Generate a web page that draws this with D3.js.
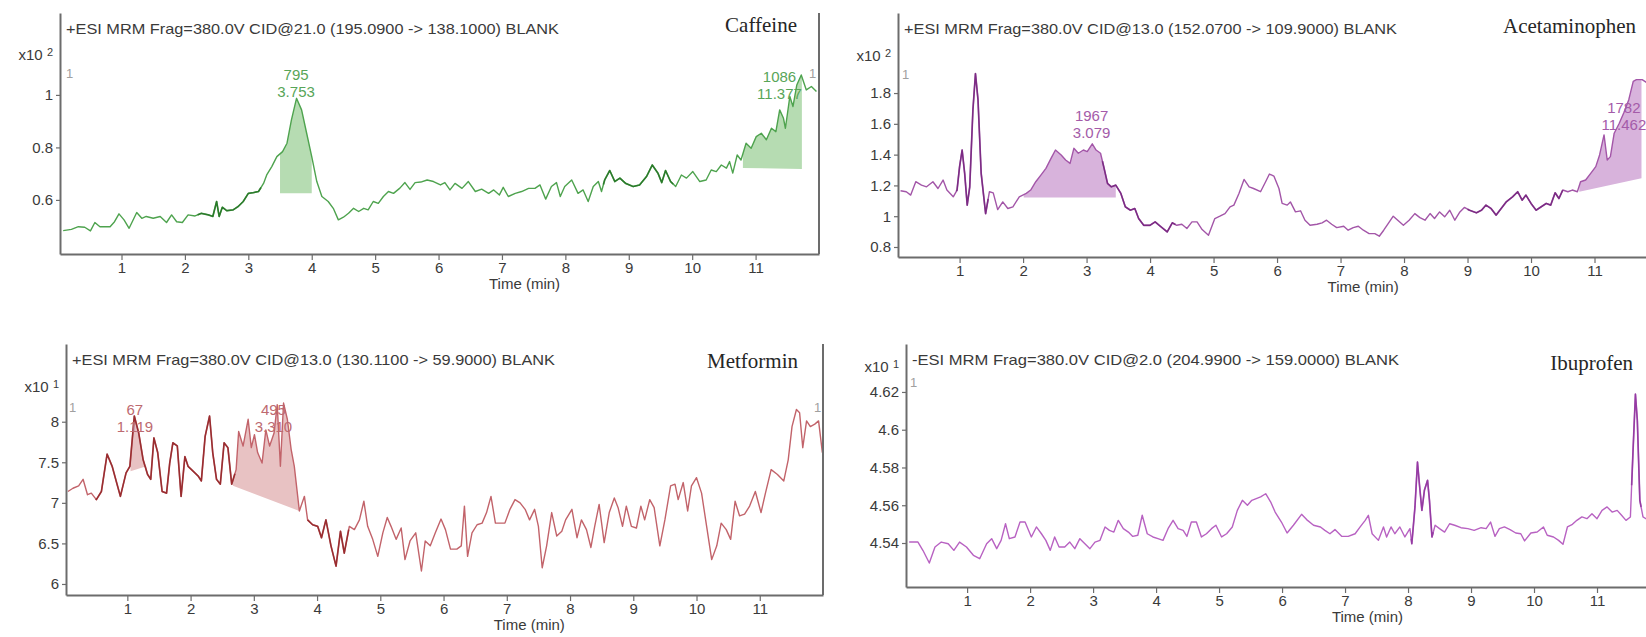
<!DOCTYPE html>
<html>
<head>
<meta charset="utf-8">
<script src="https://cdn.jsdelivr.net/npm/d3@7"></script>
<style>
  html, body { margin: 0; padding: 0; background: #fff; overflow: hidden; }
  svg { display: block; font-family: "Liberation Sans", Arial, sans-serif; }
</style>
</head>
<body>
<svg id="chart" width="1646" height="637"></svg>
<script>
// ---- MRM chromatograms of the blank sample (time in min, counts ×10^n) ----

const timeTicks = [1, 2, 3, 4, 5, 6, 7, 8, 9, 10, 11];

const compounds = ["Caffeine", "Acetaminophen", "Metformin", "Ibuprofen"];
const headers = [
  "+ESI MRM Frag=380.0V CID@21.0 (195.0900 -> 138.1000) BLANK",
  "+ESI MRM Frag=380.0V CID@13.0 (152.0700 -> 109.9000) BLANK",
  "+ESI MRM Frag=380.0V CID@13.0 (130.1100 -> 59.9000) BLANK",
  "-ESI MRM Frag=380.0V CID@2.0 (204.9900 -> 159.0000) BLANK"
];
const exponents = [2, 2, 1, 1];

const caffeineYTicks = [0.6, 0.8, 1];
const acetaminophenYTicks = [0.8, 1, 1.2, 1.4, 1.6, 1.8];
const metforminYTicks = [6, 6.5, 7, 7.5, 8];
const ibuprofenYTicks = [4.54, 4.56, 4.58, 4.6, 4.62];

// [time, intensity]
const caffeineTrace = [
  [0.08,0.483],[0.21,0.488],[0.32,0.498],[0.42,0.496],[0.51,0.482],[0.58,0.514],[0.66,0.498],[0.82,0.498],
  [0.89,0.517],[0.96,0.547],[1.04,0.524],[1.12,0.492],[1.24,0.552],[1.32,0.530],[1.39,0.537],[1.50,0.530],
  [1.61,0.537],[1.71,0.514],[1.79,0.543],[1.87,0.517],[1.96,0.514],[2.05,0.543],[2.16,0.539],[2.26,0.549],
  [2.37,0.543],[2.44,0.537],[2.50,0.594],[2.54,0.537],[2.59,0.572],[2.66,0.559],[2.76,0.562],[2.84,0.575],
  [2.92,0.594],[3.00,0.625],[3.08,0.628],[3.16,0.632],[3.24,0.663],[3.29,0.695],[3.37,0.727],[3.45,0.765],
  [3.54,0.784],[3.61,0.816],[3.68,0.905],[3.76,0.987],[3.84,0.943],[3.92,0.854],[4.00,0.765],[4.08,0.670],
  [4.16,0.613],[4.26,0.594],[4.34,0.568],[4.42,0.524],[4.50,0.534],[4.58,0.549],[4.66,0.568],[4.74,0.556],
  [4.82,0.568],[4.89,0.562],[4.97,0.594],[5.05,0.587],[5.13,0.613],[5.21,0.632],[5.29,0.625],[5.39,0.645],
  [5.47,0.666],[5.55,0.640],[5.63,0.666],[5.72,0.668],[5.82,0.676],[5.92,0.670],[6.03,0.657],[6.10,0.666],
  [6.18,0.638],[6.26,0.663],[6.37,0.644],[6.47,0.670],[6.58,0.632],[6.68,0.641],[6.79,0.625],[6.87,0.638],
  [6.96,0.619],[7.02,0.648],[7.10,0.613],[7.21,0.625],[7.31,0.632],[7.42,0.644],[7.52,0.644],[7.60,0.657],
  [7.69,0.603],[7.78,0.651],[7.86,0.666],[7.92,0.613],[7.99,0.651],[8.10,0.676],[8.20,0.625],[8.28,0.638],
  [8.36,0.594],[8.44,0.651],[8.52,0.670],[8.57,0.632],[8.62,0.676],[8.70,0.712],[8.78,0.670],[8.86,0.683],
  [8.95,0.663],[9.07,0.651],[9.17,0.657],[9.28,0.689],[9.37,0.733],[9.46,0.702],[9.52,0.666],[9.58,0.712],
  [9.66,0.670],[9.74,0.651],[9.83,0.695],[9.91,0.683],[10.01,0.708],[10.12,0.670],[10.22,0.676],[10.30,0.714],
  [10.38,0.708],[10.46,0.733],[10.54,0.721],[10.59,0.746],[10.64,0.702],[10.71,0.771],[10.77,0.752],[10.85,0.816],
  [10.93,0.797],[11.01,0.841],[11.09,0.854],[11.17,0.829],[11.25,0.873],[11.32,0.860],[11.38,0.943],[11.44,0.911],
  [11.47,0.873],[11.54,0.994],[11.59,0.956],[11.65,1.038],[11.72,1.076],[11.80,1.019],[11.88,1.032],[11.96,1.013]
];

const acetaminophenTrace = [
  [0.07,1.165],[0.16,1.159],[0.23,1.137],[0.31,1.224],[0.40,1.202],[0.48,1.191],[0.58,1.224],[0.66,1.180],
  [0.74,1.235],[0.80,1.170],[0.90,1.126],[0.96,1.170],[1.00,1.322],[1.04,1.430],[1.08,1.278],[1.12,1.072],
  [1.16,1.191],[1.21,1.691],[1.25,1.926],[1.29,1.757],[1.34,1.278],[1.41,1.017],[1.47,1.159],[1.53,1.152],
  [1.60,1.043],[1.68,1.093],[1.76,1.050],[1.84,1.061],[1.94,1.126],[2.05,1.148],[2.12,1.170],[2.20,1.224],
  [2.28,1.267],[2.36,1.311],[2.44,1.376],[2.51,1.430],[2.60,1.398],[2.67,1.365],[2.74,1.343],[2.80,1.441],
  [2.87,1.409],[2.95,1.430],[3.01,1.420],[3.09,1.470],[3.15,1.430],[3.22,1.409],[3.27,1.322],[3.33,1.213],
  [3.39,1.191],[3.46,1.202],[3.54,1.148],[3.61,1.061],[3.69,1.039],[3.76,1.050],[3.82,0.985],[3.90,0.941],
  [4.00,0.941],[4.08,0.963],[4.16,0.935],[4.27,0.898],[4.35,0.957],[4.42,0.941],[4.50,0.948],[4.58,0.920],
  [4.66,0.963],[4.74,0.963],[4.82,0.913],[4.92,0.876],[5.02,0.985],[5.10,1.000],[5.18,1.017],[5.26,1.061],
  [5.32,1.072],[5.40,1.148],[5.48,1.239],[5.56,1.191],[5.63,1.180],[5.74,1.159],[5.82,1.224],[5.88,1.274],
  [5.95,1.261],[6.03,1.180],[6.08,1.083],[6.16,1.072],[6.21,1.093],[6.29,1.028],[6.37,1.035],[6.44,0.974],
  [6.52,0.941],[6.63,0.948],[6.71,0.957],[6.78,0.974],[6.86,0.948],[6.94,0.926],[7.05,0.935],[7.12,0.909],
  [7.20,0.926],[7.28,0.935],[7.36,0.909],[7.45,0.887],[7.54,0.887],[7.61,0.870],[7.68,0.909],[7.75,0.952],
  [7.83,1.000],[7.91,0.970],[7.99,0.941],[8.08,0.974],[8.17,1.017],[8.25,0.991],[8.33,0.974],[8.41,1.017],
  [8.48,0.985],[8.56,1.028],[8.64,0.996],[8.72,1.039],[8.80,0.974],[8.88,1.028],[8.95,1.057],[9.03,1.039],
  [9.14,1.022],[9.22,1.039],[9.29,1.072],[9.37,1.050],[9.45,1.007],[9.53,1.050],[9.61,1.093],[9.71,1.126],
  [9.79,1.159],[9.86,1.104],[9.92,1.137],[10.00,1.083],[10.08,1.039],[10.16,1.061],[10.24,1.083],[10.31,1.072],
  [10.38,1.152],[10.44,1.115],[10.50,1.170],[10.58,1.159],[10.65,1.170],[10.73,1.159],[10.78,1.224],[10.86,1.235],
  [10.94,1.278],[11.02,1.322],[11.08,1.398],[11.15,1.528],[11.20,1.365],[11.25,1.387],[11.31,1.539],[11.39,1.604],
  [11.46,1.670],[11.54,1.757],[11.61,1.876],[11.66,1.887],[11.75,1.887],[11.85,1.860]
];

const metforminTrace = [
  [0.06,7.14],[0.14,7.18],[0.23,7.21],[0.30,7.29],[0.37,7.10],[0.43,7.12],[0.51,7.04],[0.59,7.14],
  [0.68,7.60],[0.76,7.45],[0.83,7.25],[0.89,7.08],[0.98,7.37],[1.04,7.45],[1.11,8.07],[1.18,7.86],
  [1.25,7.53],[1.32,7.35],[1.37,7.29],[1.42,7.80],[1.48,7.62],[1.55,7.14],[1.62,7.12],[1.67,7.49],
  [1.72,7.74],[1.79,7.70],[1.85,7.08],[1.91,7.57],[1.96,7.45],[2.04,7.39],[2.12,7.33],[2.17,7.27],
  [2.23,7.82],[2.30,8.07],[2.35,7.62],[2.41,7.29],[2.47,7.23],[2.53,7.74],[2.59,7.68],[2.65,7.23],
  [2.72,7.41],[2.76,7.88],[2.83,7.70],[2.91,8.03],[2.96,7.68],[3.01,7.84],[3.06,7.62],[3.13,7.49],
  [3.19,7.90],[3.25,7.70],[3.32,7.86],[3.37,8.21],[3.42,7.45],[3.47,8.23],[3.53,8.03],[3.59,7.66],
  [3.64,7.45],[3.72,6.90],[3.80,7.08],[3.85,6.79],[3.93,6.73],[4.01,6.71],[4.07,6.57],[4.14,6.79],
  [4.22,6.47],[4.30,6.22],[4.37,6.65],[4.43,6.38],[4.51,6.71],[4.59,6.67],[4.67,6.79],[4.74,7.02],
  [4.80,6.71],[4.88,6.55],[4.96,6.34],[5.04,6.63],[5.11,6.82],[5.17,6.71],[5.25,6.55],[5.33,6.69],
  [5.39,6.30],[5.47,6.53],[5.56,6.63],[5.65,6.16],[5.71,6.53],[5.79,6.47],[5.87,6.63],[5.96,6.80],
  [6.03,6.67],[6.11,6.43],[6.21,6.43],[6.28,6.47],[6.33,6.96],[6.38,6.34],[6.45,6.63],[6.53,6.73],
  [6.61,6.75],[6.68,6.88],[6.75,7.08],[6.82,6.75],[6.89,6.75],[6.97,6.75],[7.05,6.92],[7.13,7.04],
  [7.21,7.00],[7.29,6.92],[7.36,6.79],[7.44,6.92],[7.50,6.71],[7.56,6.20],[7.63,6.47],[7.71,6.88],
  [7.79,6.59],[7.87,6.65],[7.93,6.79],[8.03,6.92],[8.11,6.57],[8.18,6.79],[8.26,6.67],[8.33,6.45],
  [8.39,6.71],[8.46,6.98],[8.54,6.51],[8.62,6.88],[8.70,7.06],[8.76,6.94],[8.83,6.71],[8.89,6.96],
  [8.97,6.71],[9.05,6.69],[9.12,6.96],[9.18,6.79],[9.26,7.04],[9.33,6.94],[9.42,6.47],[9.50,6.79],
  [9.59,7.21],[9.66,7.23],[9.71,7.04],[9.79,7.25],[9.86,6.90],[9.92,7.21],[10.00,7.31],[10.08,7.12],
  [10.16,6.71],[10.24,6.30],[10.32,6.47],[10.39,6.75],[10.47,6.67],[10.54,6.55],[10.61,7.02],[10.68,6.84],
  [10.76,6.86],[10.84,6.96],[10.93,7.14],[11.02,6.88],[11.09,7.12],[11.18,7.41],[11.28,7.35],[11.38,7.27],
  [11.45,7.53],[11.51,7.94],[11.58,8.15],[11.63,8.11],[11.68,7.68],[11.74,8.01],[11.80,7.94],[11.87,7.97],
  [11.93,8.01],[11.99,7.62]
];

const ibuprofenTrace = [
  [0.08,4.5405],[0.22,4.5405],[0.30,4.5360],[0.40,4.5294],[0.49,4.5379],[0.59,4.5405],[0.70,4.5396],[0.79,4.5361],
  [0.88,4.5405],[0.99,4.5379],[1.10,4.5335],[1.20,4.5317],[1.31,4.5396],[1.39,4.5423],[1.47,4.5370],[1.54,4.5414],
  [1.61,4.5502],[1.67,4.5423],[1.76,4.5432],[1.84,4.5511],[1.92,4.5511],[2.02,4.5432],[2.10,4.5485],[2.18,4.5449],
  [2.25,4.5414],[2.32,4.5361],[2.39,4.5432],[2.46,4.5379],[2.55,4.5379],[2.63,4.5405],[2.71,4.5370],[2.79,4.5423],
  [2.87,4.5396],[2.95,4.5370],[3.03,4.5405],[3.11,4.5414],[3.19,4.5485],[3.26,4.5467],[3.33,4.5458],[3.40,4.5520],
  [3.48,4.5476],[3.56,4.5458],[3.63,4.5435],[3.71,4.5441],[3.78,4.5547],[3.86,4.5449],[3.95,4.5432],[4.03,4.5423],
  [4.11,4.5414],[4.19,4.5476],[4.27,4.5520],[4.35,4.5476],[4.43,4.5467],[4.49,4.5435],[4.56,4.5511],[4.64,4.5511],
  [4.72,4.5432],[4.80,4.5449],[4.88,4.5476],[4.95,4.5494],[5.04,4.5432],[5.12,4.5449],[5.21,4.5485],[5.29,4.5573],
  [5.37,4.5626],[5.45,4.5600],[5.52,4.5626],[5.59,4.5635],[5.66,4.5644],[5.74,4.5661],[5.82,4.5617],[5.89,4.5564],
  [5.99,4.5511],[6.08,4.5453],[6.18,4.5494],[6.31,4.5552],[6.39,4.5524],[6.50,4.5494],[6.61,4.5485],[6.68,4.5467],
  [6.76,4.5449],[6.84,4.5471],[6.95,4.5435],[7.05,4.5435],[7.16,4.5449],[7.24,4.5485],[7.32,4.5520],[7.37,4.5547],
  [7.43,4.5449],[7.53,4.5414],[7.61,4.5485],[7.66,4.5432],[7.73,4.5485],[7.79,4.5449],[7.87,4.5485],[7.95,4.5432],
  [8.03,4.5476],[8.06,4.5396],[8.11,4.5591],[8.15,4.5829],[8.18,4.5714],[8.22,4.5573],[8.26,4.5679],[8.31,4.5732],
  [8.34,4.5626],[8.38,4.5432],[8.43,4.5494],[8.50,4.5476],[8.58,4.5458],[8.66,4.5502],[8.74,4.5494],[8.84,4.5481],
  [8.95,4.5476],[9.05,4.5467],[9.16,4.5481],[9.24,4.5476],[9.31,4.5511],[9.38,4.5435],[9.45,4.5476],[9.53,4.5485],
  [9.62,4.5471],[9.71,4.5453],[9.79,4.5449],[9.85,4.5411],[9.95,4.5453],[10.05,4.5458],[10.15,4.5485],[10.21,4.5441],
  [10.31,4.5432],[10.39,4.5414],[10.46,4.5393],[10.53,4.5485],[10.61,4.5499],[10.68,4.5520],[10.76,4.5538],[10.84,4.5529],
  [10.92,4.5555],[11.00,4.5529],[11.08,4.5573],[11.16,4.5591],[11.24,4.5564],[11.32,4.5573],[11.39,4.5547],[11.46,4.5520],
  [11.53,4.5538],[11.57,4.5873],[11.61,4.6188],[11.64,4.6050],[11.68,4.5626],[11.73,4.5538],[11.80,4.5524],[11.90,4.5530]
];

// Integrated peaks: retention time, area, integration window and baseline end levels
const caffeinePeaks = [
  { rt: 3.753, area: 795, start: 3.50, end: 4.00, base: [0.625, 0.625] },
  { rt: 11.377, area: 1086, start: 10.80, end: 11.73, base: [0.722, 0.718] }
];
const acetaminophenPeaks = [
  { rt: 3.079, area: 1967, start: 2.01, end: 3.46, base: [1.122, 1.122] },
  { rt: 11.462, area: 1782, start: 10.76, end: 11.74, base: [1.159, 1.246] }
];
const metforminPeaks = [
  { rt: 1.119, area: 67, start: 1.05, end: 1.30, base: [7.39, 7.45] },
  { rt: 3.310, area: 495, start: 2.67, end: 3.72, base: [7.21, 6.90] }
];
const ibuprofenPeaks = [];

// Stretches of densely sampled signal, drawn with a heavier stroke
const caffeineDense = [[2.2, 3.2], [8.6, 9.7]];
const acetaminophenDense = [[0.95, 1.45], [3.25, 4.4], [9.0, 10.5]];
const metforminDense = [[0.5, 2.7], [3.85, 4.5]];
const ibuprofenDense = [[8.05, 8.4], [11.55, 11.7]];

// ---- layout ----
const W = 1646, H = 637;
const SANS = "'Liberation Sans', Arial, sans-serif";
const SERIF = "'Liberation Serif', 'Times New Roman', serif";

const panels = [
  { i: 0, trace: caffeineTrace, peaks: caffeinePeaks, dense: caffeineDense, yTicks: caffeineYTicks,
    box: { x: 60, y: 13, w: 759, h: 241 }, yRange: [0.394, 1.312], headerLen: 493,
    line: "#4ea34e", dark: "#1d6d1d", fill: "#b6dcb2", label: "#58a558",
    expY: 60, titleDx: 22, titleY: 32, labelY: [97, 99], markers: [[66, 78], [809, 78]] },
  { i: 1, trace: acetaminophenTrace, peaks: acetaminophenPeaks, dense: acetaminophenDense, yTicks: acetaminophenYTicks,
    box: { x: 898, y: 13, w: 760, h: 244 }, yRange: [0.735, 2.32], headerLen: 493,
    line: "#a356a8", dark: "#6f1c78", fill: "#d8b3dc", label: "#a45ba9",
    expY: 61, titleDx: 22, titleY: 33, labelY: [138, 130], markers: [[902, 79]] },
  { i: 2, trace: metforminTrace, peaks: metforminPeaks, dense: metforminDense, yTicks: metforminYTicks,
    box: { x: 66, y: 344, w: 757, h: 251 }, yRange: [5.864, 8.958], headerLen: 483,
    line: "#c2636a", dark: "#8c1a1c", fill: "#e8c2c3", label: "#bd6a70",
    expY: 392, titleDx: 25, titleY: 368, labelY: [432, 432], markers: [[69, 412], [814, 412]] },
  { i: 3, trace: ibuprofenTrace, peaks: ibuprofenPeaks, dense: ibuprofenDense, yTicks: ibuprofenYTicks,
    box: { x: 906, y: 344, w: 754, h: 243 }, yRange: [4.5167, 4.6454], headerLen: 487,
    line: "#b862c2", dark: "#8a2d98", fill: "#e0bfe4", label: "#b862c2",
    expY: 372, titleDx: 27, titleY: 370, labelY: [], markers: [[910, 387]] }
];

const svg = d3.select("#chart");
svg.append("rect").attr("width", W).attr("height", H).attr("fill", "#fff");

const axisColor = "#6c6c6c";
const textColor = "#3a3a3a";

function valueAt(trace, t) {
  const i = d3.bisector(d => d[0]).left(trace, t);
  if (i <= 0) return trace[0][1];
  if (i >= trace.length) return trace[trace.length - 1][1];
  const a = trace[i - 1], b = trace[i];
  return a[1] + (t - a[0]) / (b[0] - a[0]) * (b[1] - a[1]);
}

panels.forEach(p => {
  const b = p.box;
  const x = d3.scaleLinear().domain([0.03, 12]).range([b.x, b.x + b.w]);
  const y = d3.scaleLinear().domain(p.yRange).range([b.y + b.h, b.y]);
  const g = svg.append("g");

  const clipId = "clip" + p.i;
  svg.append("clipPath").attr("id", clipId)
    .append("rect").attr("x", b.x).attr("y", b.y).attr("width", b.w).attr("height", b.h);

  const plot = g.append("g").attr("clip-path", `url(#${clipId})`);
  const line = d3.line().x(d => x(d[0])).y(d => y(d[1]));

  // integrated peak areas
  p.peaks.forEach(pk => {
    const inside = p.trace.filter(d => d[0] > pk.start && d[0] < pk.end);
    const pts = [[pk.start, valueAt(p.trace, pk.start)], ...inside, [pk.end, valueAt(p.trace, pk.end)],
                 [pk.end, pk.base[1]], [pk.start, pk.base[0]]];
    plot.append("path").attr("d", line(pts) + "Z")
      .attr("fill", p.fill).attr("stroke", "none");
  });

  // signal trace
  plot.append("path").datum(p.trace).attr("d", line)
    .attr("fill", "none").attr("stroke", p.line).attr("stroke-width", 1.4)
    .attr("stroke-linejoin", "round");

  p.dense.forEach(([t0, t1]) => {
    const seg = [[t0, valueAt(p.trace, t0)], ...p.trace.filter(d => d[0] > t0 && d[0] < t1), [t1, valueAt(p.trace, t1)]];
    plot.append("path").datum(seg).attr("d", line)
      .attr("fill", "none").attr("stroke", p.dark).attr("stroke-width", 1.7)
      .attr("stroke-opacity", 0.75).attr("stroke-linejoin", "round");
  });

  // axes
  const xAxis = d3.axisBottom(x).tickValues(timeTicks).tickSize(6).tickSizeOuter(0).tickPadding(2)
    .tickFormat(d3.format("d"));
  const gx = g.append("g").attr("transform", `translate(0,${b.y + b.h})`).call(xAxis);
  const yAxis = d3.axisLeft(y).tickValues(p.yTicks).tickSize(4).tickSizeOuter(0).tickPadding(3)
    .tickFormat(d => String(d));
  const gy = g.append("g").attr("transform", `translate(${b.x},0)`).call(yAxis);

  [gx, gy].forEach(ax => {
    ax.select(".domain").attr("stroke", axisColor).attr("stroke-width", 2);
    ax.selectAll(".tick line").attr("stroke", axisColor).attr("stroke-width", 1.2);
    ax.selectAll(".tick text").attr("fill", textColor).style("font-size", "15px")
      .style("font-family", SANS);
  });

  // right frame edge
  g.append("line").attr("x1", b.x + b.w).attr("x2", b.x + b.w).attr("y1", b.y).attr("y2", b.y + b.h)
    .attr("stroke", axisColor).attr("stroke-width", 2);

  // header line
  g.append("text").attr("x", b.x + 6).attr("y", b.y + 21)
    .style("font-size", "15px").style("font-family", SANS).attr("fill", textColor)
    .attr("textLength", p.headerLen).attr("lengthAdjust", "spacingAndGlyphs")
    .text(headers[p.i]);

  // compound name
  g.append("text").attr("x", b.x + b.w - p.titleDx).attr("y", p.titleY)
    .attr("text-anchor", "end").attr("fill", "#262626")
    .style("font-size", "21px").style("font-family", SERIF)
    .text(compounds[p.i]);

  // intensity multiplier
  const ex = g.append("text").attr("x", b.x - 7).attr("y", p.expY)
    .attr("text-anchor", "end").attr("fill", textColor)
    .style("font-size", "15px").style("font-family", SANS);
  ex.append("tspan").text("x10 ");
  ex.append("tspan").style("font-size", "11px").attr("dy", -4).text(exponents[p.i]);

  // scan markers
  p.markers.forEach(([mx, my]) => {
    g.append("text").attr("x", mx).attr("y", my)
      .style("font-size", "13px").style("font-family", SANS)
      .attr("fill", "#a0a0a0").text("1");
  });

  // peak annotations: area above retention time
  p.peaks.forEach((pk, k) => {
    const base = p.labelY[k];
    const t = g.append("text").attr("text-anchor", "middle").attr("fill", p.label)
      .style("font-size", "15px").style("font-family", SANS);
    t.append("tspan").attr("x", x(pk.rt)).attr("y", base - 17).text(pk.area);
    t.append("tspan").attr("x", x(pk.rt)).attr("y", base).text(pk.rt.toFixed(3));
  });

  // time axis title
  g.append("text").attr("x", b.x + b.w * 0.612).attr("y", b.y + b.h + 35)
    .attr("text-anchor", "middle").attr("fill", textColor)
    .style("font-size", "15px").style("font-family", SANS)
    .text("Time (min)");
});
</script>
</body>
</html>
